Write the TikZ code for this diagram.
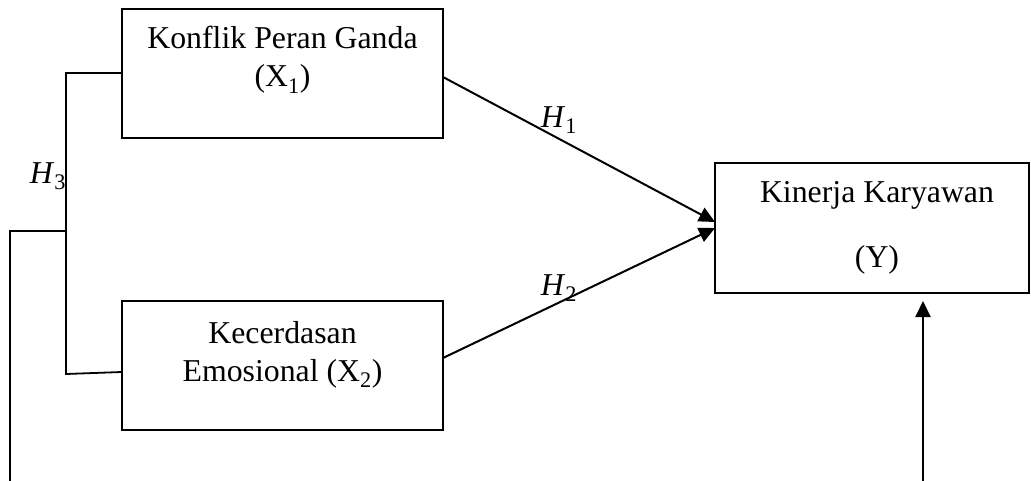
\documentclass[tikz,border=0pt]{standalone}
\usepackage{fontspec}
\setmainfont{Liberation Serif}
\usetikzlibrary{arrows.meta}
\begin{document}
\begin{tikzpicture}[x=1pt,y=-1pt,
  box/.style={draw,line width=1.8pt,inner sep=0pt},
  txt/.style={anchor=base,inner sep=0pt,font=\fontsize{31.8}{40}\selectfont},
  ln/.style={line width=1.8pt},
  arr/.style={line width=2pt,-{Triangle[length=16pt,width=15pt]}}]
\useasboundingbox (0,0) rectangle (1031,481);
% boxes
\node[box,minimum width=321pt,minimum height=129pt] (x1) at (282.5,73.5) {};
\node[box,minimum width=321pt,minimum height=129pt] (x2) at (282.5,365.5) {};
\node[box,minimum width=314pt,minimum height=130pt] (y) at (872,228) {};
% texts
\node[txt] (t1a) at (282.5,49) {Konflik Peran Ganda};
\node[txt] (t1b) at (282.5,87) {(X\textsubscript{1})};
\node[txt] (t2a) at (282.5,343) {Kecerdasan};
\node[txt] (t2b) at (282.5,381) {Emosional (X\textsubscript{2})};
\node[txt] (tya) at (877,203) {Kinerja Karyawan};
\node[txt] (tyb) at (877,267) {(Y)};
% labels
\node[txt,anchor=center] (h1) at (559,120) {\textit{H}\textsubscript{1}};
\node[txt,anchor=center] (h2) at (559,288) {\textit{H}\textsubscript{2}};
\node[txt,anchor=center] (h3) at (48,176) {\textit{H}\textsubscript{3}};
% arrows
\coordinate (a1) at (443,77);
\coordinate (a2) at (443,358);
\coordinate (e1) at (715,222);
\coordinate (e2) at (715,228);
\draw[arr] (a1) -- (e1);
\draw[arr] (a2) -- (e2);
\coordinate (yb) at (923,481);
\coordinate (yt) at (923,301);
\draw[arr] (yb) -- (yt);
% bracket
\coordinate (b1) at (66,73);
\coordinate (b2) at (66,374);
\coordinate (bm) at (66,231);
\coordinate (bl) at (10,231);
\coordinate (bb) at (10,481);
\draw[ln] (x1.west |- b1) -- (b1) -- (b2) -- (122,372);
\draw[ln] (bm) -- (bl) -- (bb);
\end{tikzpicture}
\end{document}
